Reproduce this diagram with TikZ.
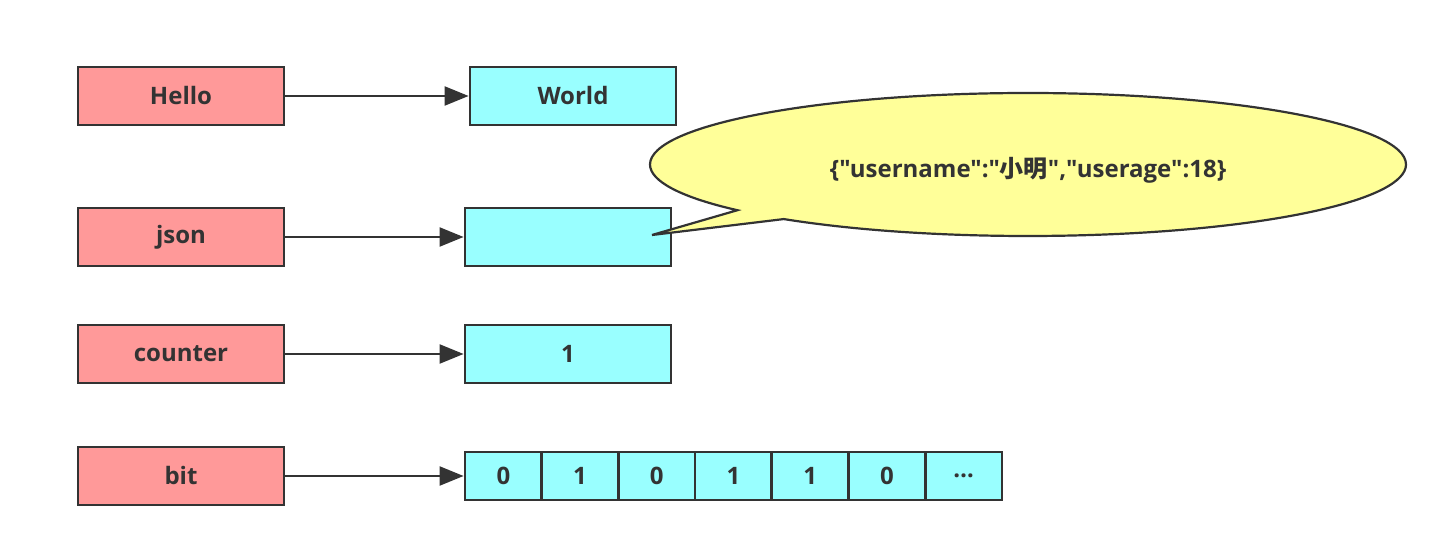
\documentclass[tikz,border=0pt]{standalone}
\usepackage{fontspec}
\setmainfont{Open Sans}[Ligatures=TeXOff]
\newfontfamily\cjk{Noto Sans CJK SC}[Ligatures=TeXOff]
\usetikzlibrary{arrows.meta,shapes.callouts}
\definecolor{keyred}{RGB}{255,153,153}
\definecolor{valcyan}{RGB}{153,255,255}
\definecolor{noteyellow}{RGB}{255,255,153}
\definecolor{ink}{RGB}{51,51,51}
\begin{document}
\begin{tikzpicture}[x=0.5pt,y=-0.5pt,
	>={Triangle[length=12pt,width=9.5pt]},
	every node/.style={font=\bfseries\fontsize{12}{14}\selectfont,text=ink},
	keystyle/.style={draw=ink,line width=1.4pt,fill=keyred,minimum width=103pt,minimum height=29pt,inner sep=0pt},
	valstyle/.style={keystyle,fill=valcyan},
	cellstyle/.style={valstyle,minimum width=38.36pt,minimum height=24pt},
	arrowstyle/.style={->,draw=ink,line width=1.1pt}]
	
	\useasboundingbox (0,0) rectangle (1446,550);
	
	% keys
	\node[keystyle] (hello) at (181,96) {Hello};
	\node[keystyle] (json) at (181,237) {json};
	\node[keystyle] (counter) at (181,354) {counter};
	\node[keystyle] (bit) at (181,476) {bit};
	
	% values
	\node[valstyle] (world) at (573,96) {World};
	\node[valstyle] (jv) at (568,237) {};
	\node[valstyle] (one) at (568,354) {1};
	\foreach \v [count=\i] in {0,1,0,1,1,0,\ldots}
		\node[cellstyle] (c\i) at ({465+76.7*(\i-0.5)},476) {\v};
	
	% callout
	\coordinate (tip) at (652,235);
	\node[ellipse callout,draw=ink,line width=1.1pt,fill=noteyellow,
		minimum width=378pt,minimum height=71.5pt,
		callout absolute pointer={(tip)},callout pointer arc=10] (note) at (1028,164.5)
		{\raisebox{-6.5pt}[0pt][0pt]{\{"username":"{\cjk 小明}","userage":18\}}};
	
	\draw[arrowstyle] (hello) -- (world);
	\draw[arrowstyle] (json) -- (jv);
	\draw[arrowstyle] (counter) -- (one);
	\draw[arrowstyle] (bit) -- (c1);
	
\end{tikzpicture}
\end{document}
